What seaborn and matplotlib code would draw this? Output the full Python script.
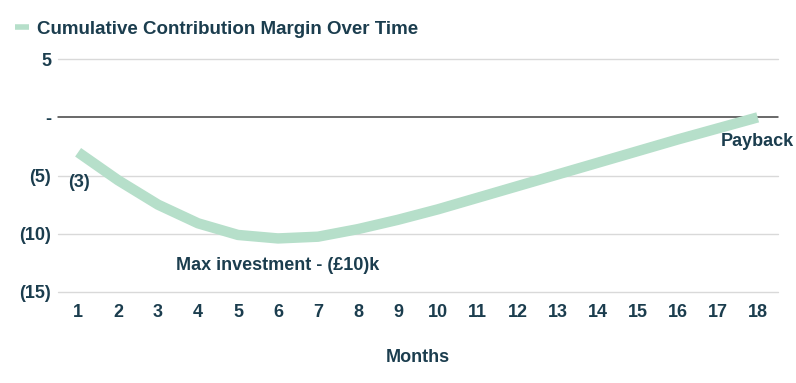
import pandas as pd
import matplotlib.pyplot as plt
import seaborn as sns

# Data (GBP k, cumulative)
months = list(range(1, 19))
margin = [-3.0, -5.4, -7.5, -9.1, -10.1, -10.4, -10.25, -9.6, -8.8,
          -7.9, -6.9, -5.9, -4.9, -3.9, -2.9, -1.9, -0.95, 0.0]
y_ticks = [5, 0, -5, -10, -15]
y_tick_labels = ["5", "-", "(5)", "(10)", "(15)"]
series_name = "Cumulative Contribution Margin Over Time"

df = pd.DataFrame({"Month": months, "Margin": margin})

sns.set_style("white")
plt.rcParams["font.family"] = ["Liberation Sans", "DejaVu Sans"]

text_col = "#1b3d4e"
line_col = "#b6dfca"

fig = plt.figure(figsize=(7.96, 3.83), dpi=100)
ax = fig.add_axes([0.073, 0.2376, 0.904, 0.608])

# gridlines
for v in y_ticks:
    if v == 0:
        ax.axhline(v, color="#404040", lw=1.1, zorder=1, clip_on=False)
    else:
        ax.axhline(v, color="#d9d9d9", lw=1.0, zorder=1, clip_on=False)

sns.lineplot(data=df, x="Month", y="Margin", ax=ax, color=line_col,
             lw=7.5, label=series_name, zorder=3, solid_capstyle="butt",
             solid_joinstyle="round")

ax.set_xlim(0.5, 18.5)
ax.set_ylim(-15, 5)
ax.set_xticks(months)
ax.set_xticklabels([str(m) for m in months], fontsize=13, fontweight="bold",
                   color=text_col)
ax.set_yticks(y_ticks)
ax.set_yticklabels(y_tick_labels, fontsize=13, fontweight="bold", color=text_col)
ax.tick_params(axis="both", length=0)
ax.tick_params(axis="x", pad=9)
ax.tick_params(axis="y", pad=5)
for s in ax.spines.values():
    s.set_visible(False)

ax.set_xlabel("Months", fontsize=13, fontweight="bold", color=text_col,
              labelpad=20)
ax.set_ylabel("")

# annotations
ax.text(0.75, margin[0] - 2.6, "(3)", fontsize=13,
        fontweight="bold", color=text_col, ha="left", va="center")
ax.text(months[5], -12.7, "Max investment - (£10)k", fontsize=13,
        fontweight="bold", color=text_col, ha="center", va="center")
ax.text(months[-1], -2.1, "Payback", fontsize=13, fontweight="bold",
        color=text_col, ha="center", va="center")

leg = ax.legend(loc="upper left", bbox_to_anchor=(0.01, 0.965),
                bbox_transform=fig.transFigure, frameon=False,
                handlelength=0.7, handletextpad=0.45, borderaxespad=0,
                prop={"size": 13.5, "weight": "bold"})
for t in leg.get_texts():
    t.set_color(text_col)
for h in leg.get_lines():
    h.set_linewidth(4)

fig.savefig("out.png", dpi=100)
